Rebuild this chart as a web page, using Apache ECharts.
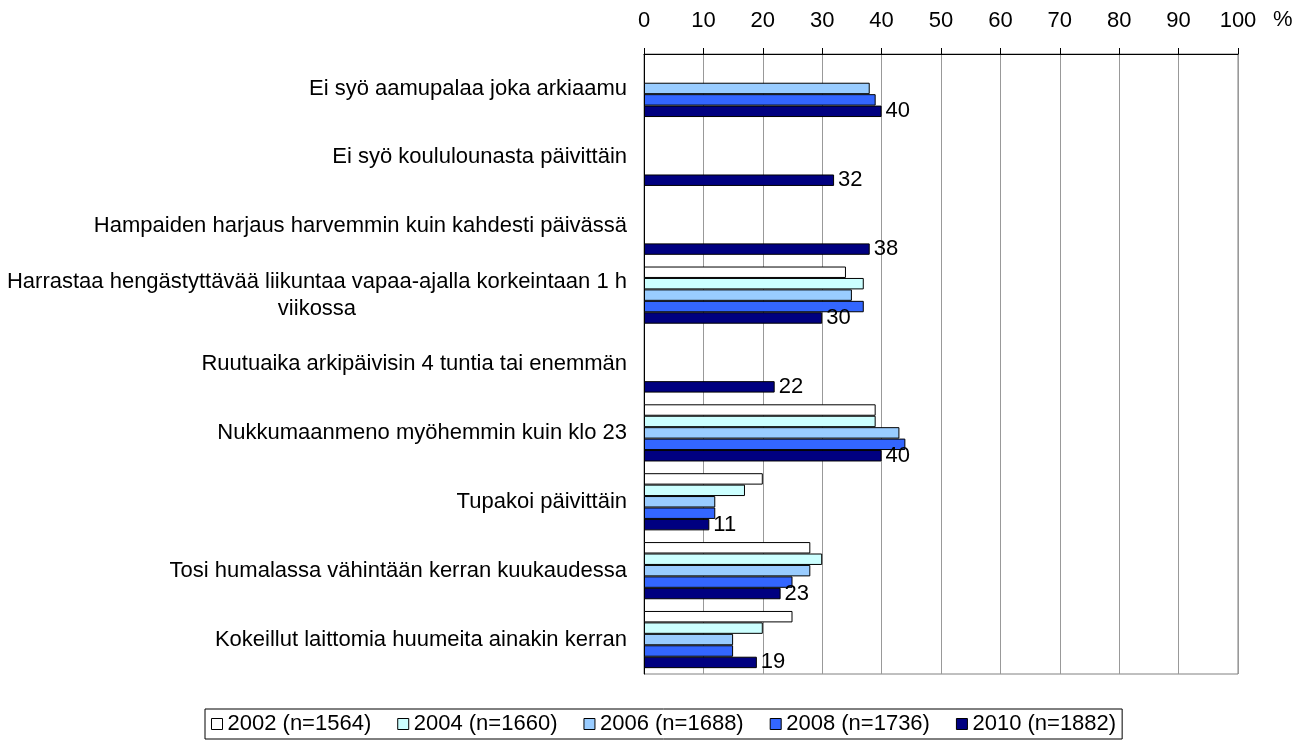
<!DOCTYPE html>
<html>
<head>
<meta charset="utf-8">
<script src="https://cdn.jsdelivr.net/npm/echarts@6/dist/echarts.min.js"></script>
<style>
html,body{margin:0;padding:0;background:#fff;}
#main{width:1304px;height:740px;}
</style>
</head>
<body>
<div id="main"></div>
<script>
// kategoriat (ylhäältä alas)
var categories = [
	'Ei syö aamupalaa joka arkiaamu',
	'Ei syö koululounasta päivittäin',
	'Hampaiden harjaus harvemmin kuin kahdesti päivässä',
	'Harrastaa hengästyttävää liikuntaa vapaa-ajalla korkeintaan 1 h\nviikossa',
	'Ruutuaika arkipäivisin 4 tuntia tai enemmän',
	'Nukkumaanmeno myöhemmin kuin klo 23',
	'Tupakoi päivittäin',
	'Tosi humalassa vähintään kerran kuukaudessa',
	'Kokeillut laittomia huumeita ainakin kerran'
];
var seriesNames = ['2002 (n=1564)','2004 (n=1660)','2006 (n=1688)','2008 (n=1736)','2010 (n=1882)'];
var v2002 = [null, null, null, 34, null, 39, 20, 28, 25];
var v2004 = [null, null, null, 37, null, 39, 17, 30, 20];
var v2006 = [38, null, null, 35, null, 43, 12, 28, 15];
var v2008 = [39, null, null, 37, null, 44, 12, 25, 15];
var v2010 = [40, 32, 38, 30, 22, 40, 11, 23, 19];
var xTicks = [0,10,20,30,40,50,60,70,80,90,100];

var colors = ['#FFFFFF','#CCFFFF','#99CCFF','#3366FF','#000080'];
var allData = [v2002, v2004, v2006, v2008, v2010];
var fnt = 'Liberation Sans, Arial, sans-serif';
var fs = 22;

var series = [];
for (var i = 0; i < allData.length; i++) {
	series.push({
		name: seriesNames[i],
		type: 'bar',
		data: allData[i],
		barGap: '0%',
		barCategoryGap: '17%',
		itemStyle: {color: colors[i], borderColor: '#000', borderWidth: 1},
		label: {
			show: i === 4,
			position: 'right',
			distance: 4,
			color: '#000',
			fontSize: fs,
			fontFamily: fnt
		}
	});
}

var myChart = echarts.init(document.getElementById('main'));
var option = {
	animation: false,
	color: colors,
	title: {
		text: '%',
		left: 1268,
		top: 4,
		textStyle: {fontSize: fs, fontWeight: 'normal', color: '#000', fontFamily: fnt}
	},
	grid: {
		left: 644, right: 66, top: 54, bottom: 66,
		show: true, borderColor: '#808080', borderWidth: 1
	},
	legend: {
		left: 205,
		top: 709,
		itemWidth: 11,
		itemHeight: 11,
		itemGap: 26,
		padding: [4, 6, 4, 6],
		borderColor: '#000',
		borderWidth: 1,
		borderRadius: 0,
		icon: 'rect',
		itemStyle: {borderColor: '#000', borderWidth: 1},
		textStyle: {fontSize: 22, color: '#000', fontFamily: fnt},
		data: seriesNames
	},
	xAxis: {
		type: 'value',
		position: 'top',
		min: 0, max: 100, interval: 10,
		axisLine: {show: true, lineStyle: {color: '#000', width: 1}},
		axisTick: {show: true, length: 6, lineStyle: {color: '#000'}},
		axisLabel: {
			margin: 22, color: '#000', fontSize: fs, fontFamily: fnt,
			formatter: function (v) { return xTicks.indexOf(v) >= 0 ? String(v) : ''; }
		},
		splitLine: {show: true, lineStyle: {color: '#999', width: 1}}
	},
	yAxis: {
		type: 'category',
		inverse: true,
		data: categories,
		axisLine: {show: true, lineStyle: {color: '#000', width: 1}},
		axisTick: {show: false},
		axisLabel: {
			margin: 17, color: '#000', fontSize: fs, fontFamily: fnt,
			formatter: function (v) {
				var parts = v.split('\n');
				if (parts.length > 1) {
					return '{a|' + parts[0] + '}\n{b|' + parts[1] + '}';
				}
				return '{a|' + v + '}';
			},
			rich: {
				a: {fontSize: fs, lineHeight: 27, color: '#000', fontFamily: fnt},
				b: {fontSize: fs, lineHeight: 27, color: '#000', fontFamily: fnt, align: 'center'}
			}
		}
	},
	series: series
};
myChart.setOption(option);
</script>
</body>
</html>
